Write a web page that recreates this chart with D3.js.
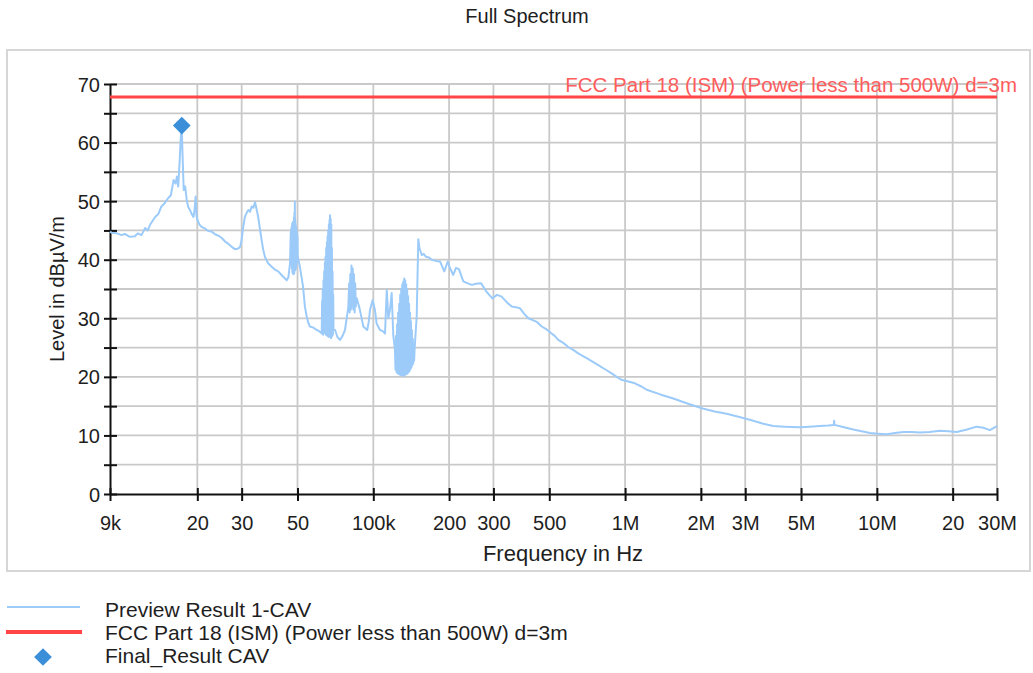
<!DOCTYPE html>
<html>
<head>
<meta charset="utf-8">
<script src="https://cdn.jsdelivr.net/npm/d3@7"></script>
<style>
  body { margin: 0; background: #fff; }
  text { font-family: "Liberation Sans", Arial, sans-serif; fill: #1e1e1e; }
  .grid line { stroke: #c9c9c9; stroke-width: 1.8; }
  .axis path, .axis line { stroke: #111; stroke-width: 2; }
  .axis text { font-size: 20px; fill: #1e1e1e; }
</style>
</head>
<body>
<script>
// tick labels
var xTickVals   = [9e3, 2e4, 3e4, 5e4, 1e5, 2e5, 3e5, 5e5, 1e6, 2e6, 3e6, 5e6, 1e7, 2e7, 3e7];
var xTickLabels = ["9k", "20", "30", "50", "100k", "200", "300", "500", "1M", "2M", "3M", "5M", "10M", "20", "30M"];
var yTickVals   = [0, 5, 10, 15, 20, 25, 30, 35, 40, 45, 50, 55, 60, 65, 70];

// Preview Result 1-CAV  [kHz, dBuV/m]
var preview = [
  [9.0,44.8],[9.14,44.6],[9.6,44.5],[10.0,44.2],[10.3,44.4],[10.8,43.9],[11.3,44.0],[11.6,44.5],[12.0,44.2],
  [12.4,45.4],[12.7,45.0],[13.0,46.0],[13.6,47.3],[14.0,47.8],[14.4,49.1],[14.8,49.6],[15.3,50.5],[15.7,51.0],
  [16.1,53.6],[16.4,53.0],[16.6,54.2],[16.8,52.5],[17.0,56.5],[17.2,61.0],[17.35,62.3],[17.5,57.0],[17.66,51.9],
  [17.9,52.5],[18.15,50.2],[18.4,49.0],[18.7,48.5],[19.0,47.8],[19.3,47.3],[19.5,48.5],[19.7,50.8],[19.85,47.5],
  [20.0,46.8],[20.4,46.0],[20.8,45.6],[21.5,45.3],[22.1,44.9],[22.8,44.8],[23.6,44.3],[24.3,44.1],[25.0,43.7],
  [25.8,43.1],[26.6,42.7],[27.4,42.2],[28.2,41.8],[29.1,41.9],[29.6,42.2],[30.0,43.4],[30.4,45.5],[30.9,47.3],
  [31.4,48.0],[31.9,48.5],[32.4,48.2],[32.9,49.1],[33.4,48.9],[33.9,49.8],[34.4,48.6],[34.9,47.3],[35.4,45.5],
  [36.0,43.4],[36.5,41.8],[37.1,40.5],[38.2,39.4],[39.5,38.8],[40.7,38.3],[41.9,38.0],[43.2,37.4],[44.6,36.8],
  [45.3,36.5],[46.0,37.0],[46.7,39.4],[47.0,44.5],
  // dense band ~48k
  [47.4,45.6],[47.5,38.5],[47.6,46.2],[47.7,37.8],[47.8,45.8],[47.9,38.2],[48.0,46.5],[48.1,37.5],[48.2,45.2],
  [48.3,38.0],[48.4,47.2],[48.5,37.6],[48.6,48.0],[48.7,38.4],[48.8,49.9],[48.9,39.0],[49.0,46.8],[49.1,38.2],
  [49.2,46.0],[49.3,38.5],[49.4,45.5],[49.5,39.0],[49.6,45.0],[49.7,39.5],[49.8,44.5],[49.9,40.0],[50.0,44.0],
  [50.1,40.5],[51.0,39],[52.6,35.4],[53.5,32],[54.4,30.3],[55.2,29.2],[56.0,28.6],[57.8,28.4],[59.6,28.0],[61.0,27.8],
  // dense band ~65k
  [62.4,27.4],[62.6,33],[62.8,27.8],[63.0,35],[63.2,27.2],[63.4,36.5],[63.6,28],[63.8,38],[64.0,27.5],[64.2,39.5],
  [64.4,27.8],[64.6,40.5],[64.8,27.2],[65.0,42],[65.2,27.6],[65.4,43],[65.6,27],[65.8,44],[66.0,27.5],[66.2,45],
  [66.4,26.8],[66.6,46],[66.8,27.2],[67.0,46.8],[67.2,26.9],[67.3,47.6],[67.5,27.5],[67.7,47],[67.9,26.6],[68.1,46],
  [68.3,26.8],[68.5,42],[68.7,27],[68.9,38],[69.1,27.2],[69.3,34],[69.5,28],
  [70.5,28],[72.0,26.8],[73.7,26.3],[75.5,27.0],[77.2,28.0],[79.6,32],
  [80.2,36],[80.6,31],[81.0,37.5],[81.5,31.5],[81.9,39],[82.4,32],[82.9,38.5],[83.3,31.5],[83.8,37.5],[84.3,31],
  [84.7,36],[85.2,32],[85.7,33.5],[86.4,33.1],
  [88.5,31.4],[91.3,28.6],[94.6,28.0],[96.0,29.5],[97.0,31.4],[99.4,33.1],[101.5,31.4],[103.1,29.1],[106.3,28.0],
  [109,27.8],[111.3,27.4],[113.1,34.8],[114.7,30.0],[116.5,31.5],[118.3,34.3],[120.1,27],
  // dense band ~130k
  [121.9,24.6],[122.5,21.2],[123.1,27],[123.7,20.8],[124.3,29],[124.9,20.6],[125.5,31],[126.1,20.5],[126.7,32.5],
  [127.3,20.4],[127.9,34],[128.5,20.3],[129.1,35],[129.7,20.3],[130.3,35.8],[130.9,20.2],[131.5,36.3],[132.1,20.2],
  [132.7,36.8],[133.3,20.3],[133.9,36.5],[134.5,20.4],[135.1,35.8],[135.7,20.5],[136.3,35],[136.9,20.6],[137.5,33.8],
  [138.1,20.8],[138.7,32.5],[139.3,21],[139.9,31],[140.5,21.3],[141.1,29.5],[141.7,21.6],[142.3,28],[142.9,22],
  [143.5,26.5],[144.1,22.3],[144.7,25.5],[145.3,22.8],[146,25],
  [148.7,30.3],[150.9,43.5],[152.5,42],[155.7,40.8],[158.5,41],[161.9,40.5],[166,40.4],[170.6,40.0],[177,39.8],
  [184,39.7],[191.4,38.0],[197.5,39.7],[202,38.5],[207.8,37.4],[213,38.6],[218.9,38.4],[227.7,36.3],[236,36.0],
  [246,35.7],[256,35.9],[267.7,36.0],[282,34.5],[296.8,33.4],[310,34.0],[323.5,33.7],[338,32.8],[354.4,32.0],
  [368,31.9],[382.5,31.7],[397,30.8],[412.6,30.0],[430,29.7],[445.7,29.4],[466.6,28.6],[488,28.1],[511,27.4],
  [525,27.0],[542.8,26.3],[568,25.8],[594.8,25.1],[622,24.6],[651.6,24.0],[678,23.6],[704,23.2],[742,22.6],
  [783,22.0],[832,21.3],[884.5,20.6],[926,20.0],[969,19.5],[1030,19.2],[1094,18.9],[1155,18.4],[1218,17.8],
  [1380,17.0],[1554,16.3],[1780,15.4],[2033,14.6],[2270,14.1],[2532,13.7],[2870,13.1],[3228,12.5],[3540,12.0],
  [3877,11.6],[4300,11.5],[4950,11.4],[5400,11.5],[5940,11.6],[6400,11.7],[6750,11.8],[6760,12.5],[6790,11.8],
  [7400,11.4],[8060,11.0],[8700,10.7],[9390,10.4],[10100,10.3],[10940,10.2],[11800,10.4],[12730,10.6],[13700,10.6],
  [14830,10.5],[16200,10.6],[17800,10.8],[19200,10.7],[20750,10.6],[22800,11.0],[24900,11.5],[26500,11.3],
  [28100,10.9],[30000,11.6]
];

// FCC Part 18 limit line
var limitKHz = [9, 30000];
var limitDb  = [67.8, 67.8];
var limitName = "FCC Part 18 (ISM) (Power less than 500W) d=3m";

// Final_Result CAV
var finalKHz = [17.35];
var finalDb  = [62.9];

var legendNames = ["Preview Result 1-CAV", limitName, "Final_Result CAV"];

var margin = {top: 84, right: 36, bottom: 179, left: 110}
  , width = 1033 - margin.left - margin.right
  , height = 673 - margin.top - margin.bottom;

var lineColor = "#9ccbfa", limitColor = "#ff4545", markColor = "#3a8fd8";

var xScale = d3.scaleLog()
    .domain([9e3, 3e7])
    .range([0, width]);

var yScale = d3.scaleLinear()
    .domain([0, 70])
    .range([height, 0]);

var root = d3.select("body").append("svg")
    .attr("width", 1033)
    .attr("height", 673);

// outer frame
root.append("rect")
    .attr("x", 7).attr("y", 50)
    .attr("width", 1023).attr("height", 521)
    .attr("fill", "none")
    .attr("stroke", "#d6d6d6")
    .attr("stroke-width", 2);

root.append("text")
    .attr("x", 527).attr("y", 23)
    .style("text-anchor", "middle")
    .style("font-size", "20px")
    .text("Full Spectrum");

var svg = root.append("g")
    .attr("transform", "translate(" + margin.left + "," + margin.top + ")");

// grid
var grid = svg.append("g").attr("class", "grid");
grid.selectAll(".vg")
    .data(xTickVals.slice(1)).enter()
    .append("line")
    .attr("x1", function(d) { return xScale(d); })
    .attr("x2", function(d) { return xScale(d); })
    .attr("y1", 0).attr("y2", height);
grid.selectAll(".hg")
    .data(yTickVals.slice(1)).enter()
    .append("line")
    .attr("x1", 0).attr("x2", width)
    .attr("y1", function(d) { return yScale(d); })
    .attr("y2", function(d) { return yScale(d); });

// x axis
var xAxis = svg.append("g")
    .attr("class", "x axis")
    .attr("transform", "translate(0," + height + ")")
    .call(d3.axisBottom(xScale)
      .tickValues(xTickVals)
      .tickFormat(function(d, i) { return xTickLabels[i]; })
      .tickSize(7)
      .tickSizeOuter(0));
xAxis.selectAll(".tick line").attr("y1", -6);
xAxis.selectAll(".tick text").attr("y", 36).attr("dy", 0);

// y axis
var yAxis = svg.append("g")
    .attr("class", "y axis")
    .call(d3.axisLeft(yScale)
      .tickValues(yTickVals)
      .tickFormat(function(d) { return d % 10 === 0 ? d : ""; })
      .tickSize(6)
      .tickSizeOuter(0));
yAxis.selectAll(".tick line").attr("x1", 7);
yAxis.selectAll(".tick text").attr("x", -10).attr("dy", "0.35em");

// axis labels
svg.append("text")
    .attr("x", 453)
    .attr("y", height + 67)
    .style("text-anchor", "middle")
    .style("font-size", "22px")
    .text("Frequency in Hz");

svg.append("text")
    .attr("transform", "rotate(-90)")
    .attr("x", 0 - (yScale(35)))
    .attr("y", -46)
    .style("text-anchor", "middle")
    .style("font-size", "20px")
    .text("Level in dB\u00b5V/m");

// limit line
var limitPts = limitKHz.map(function(f, i) { return [f * 1000, limitDb[i]]; });
svg.append("path")
    .datum(limitPts)
    .attr("fill", "none")
    .attr("stroke", limitColor)
    .attr("stroke-width", 3)
    .attr("d", d3.line()
      .x(function(d) { return xScale(d[0]); })
      .y(function(d) { return yScale(d[1]); }));

svg.append("text")
    .attr("x", width + 20)
    .attr("y", yScale(limitDb[1]) - 5)
    .style("text-anchor", "end")
    .style("font-size", "20.5px")
    .style("fill", "#ff5c5c")
    .text(limitName);

// spectrum
svg.append("path")
    .datum(preview)
    .attr("fill", "none")
    .attr("stroke", lineColor)
    .attr("stroke-width", 2)
    .attr("stroke-linejoin", "round")
    .attr("d", d3.line()
      .x(function(d) { return xScale(d[0] * 1000); })
      .y(function(d) { return yScale(d[1]); }));

// final result diamond
svg.selectAll(".final")
    .data(finalKHz).enter()
    .append("path")
    .attr("d", d3.symbol().type(d3.symbolDiamond2).size(200))
    .attr("transform", function(d, i) {
      return "translate(" + xScale(d * 1000) + "," + yScale(finalDb[i]) + ")";
    })
    .attr("fill", markColor);

// legend
var leg = root.append("g");
var legY = [607, 632, 657];
leg.append("line")
    .attr("x1", 7).attr("x2", 80)
    .attr("y1", legY[0]).attr("y2", legY[0])
    .attr("stroke", lineColor).attr("stroke-width", 2);
leg.append("line")
    .attr("x1", 6).attr("x2", 82)
    .attr("y1", legY[1]).attr("y2", legY[1])
    .attr("stroke", limitColor).attr("stroke-width", 4);
leg.append("path")
    .attr("d", d3.symbol().type(d3.symbolDiamond2).size(200))
    .attr("transform", "translate(43," + legY[2] + ")")
    .attr("fill", markColor);
leg.selectAll(".ltxt")
    .data(legendNames).enter()
    .append("text")
    .attr("x", 105)
    .attr("y", function(d, i) { return [617, 640, 663][i]; })
    .style("font-size", "21px")
    .text(function(d) { return d; });
</script>
</body>
</html>
